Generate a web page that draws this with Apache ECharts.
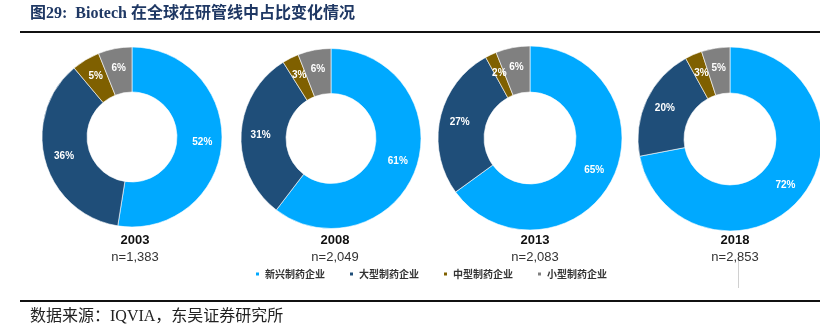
<!DOCTYPE html>
<html>
<head>
<meta charset="utf-8">
<style>
html,body{margin:0;padding:0;background:#fff;}
#main{width:820px;height:324px;}
</style>
<script src="https://cdn.jsdelivr.net/npm/echarts@6/dist/echarts.min.js"></script>
</head>
<body>
<div id="main"></div>
<script>
const categories = ['新兴制药企业', '大型制药企业', '中型制药企业', '小型制药企业'];
const years = ['2003', '2008', '2013', '2018'];
const counts = ['n=1,383', 'n=2,049', 'n=2,083', 'n=2,853'];
const share2003 = [52, 36, 5, 6];
const share2008 = [61, 31, 3, 6];
const share2013 = [65, 27, 2, 6];
const share2018 = [72, 20, 3, 5];
const shares = [share2003, share2008, share2013, share2018];

const colors = ['#00A9FF', '#1F4E79', '#7F6000', '#808080'];
const centers = [[132, 137], [331, 138.5], [530, 138], [730, 139]];
const radii = [[45, 90], [45, 90], [46, 92], [46, 92]];
const labelX = [135, 335, 535, 735];

const chart = echarts.init(document.getElementById('main'), null, {renderer: 'canvas'});

const series = shares.map((vals, i) => ({
  type: 'pie',
  name: years[i],
  center: centers[i],
  radius: radii[i],
  startAngle: 90,
  clockwise: true,
  avoidLabelOverlap: false,
  silent: true,
  itemStyle: {borderColor: '#ffffff', borderWidth: 0.6},
  label: {
    show: true,
    position: 'inside',
    formatter: '{c}%',
    color: '#ffffff',
    fontSize: 10,
    fontWeight: 'bold',
    fontFamily: 'Liberation Sans, Arial, sans-serif'
  },
  labelLine: {show: false},
  emphasis: {disabled: true},
  data: categories.map((c, k) => ({name: c, value: vals[k]}))
}));

const graphics = [
  {type: 'text', left: 30, top: 6, style: {text: '图29:  Biotech 在全球在研管线中占比变化情况', fill: '#1F3864', font: 'bold 16px "Liberation Serif", "Noto Sans CJK SC", serif'}},
  {type: 'line', shape: {x1: 20, y1: 32, x2: 820, y2: 32}, style: {stroke: '#111', lineWidth: 2}},
  {type: 'line', shape: {x1: 20, y1: 301, x2: 820, y2: 301}, style: {stroke: '#111', lineWidth: 2}},
  {type: 'text', left: 30, top: 309, style: {text: '数据来源：IQVIA，东吴证券研究所', fill: '#222', font: '16px "Liberation Serif", "Noto Sans CJK SC", serif'}},
  {type: 'line', shape: {x1: 738.5, y1: 252, x2: 738.5, y2: 288}, style: {stroke: '#d0d0d0', lineWidth: 1}}
];
years.forEach((y, i) => {
  graphics.push({type: 'text', x: labelX[i], y: 240, style: {text: y, fill: '#111', align: 'center', verticalAlign: 'middle', font: 'bold 13px "Liberation Sans", Arial, sans-serif'}});
  graphics.push({type: 'text', x: labelX[i], y: 257, style: {text: counts[i], fill: '#333', align: 'center', verticalAlign: 'middle', font: '13px "Liberation Sans", Arial, sans-serif'}});
});

chart.setOption({
  animation: false,
  color: colors,
  legend: {
    data: categories,
    left: 249,
    top: 264,
    icon: 'rect',
    itemWidth: 5,
    itemHeight: 5,
    itemGap: 23,
    selectedMode: false,
    textStyle: {fontSize: 10, fontWeight: 'bold', color: '#333', fontFamily: 'Noto Sans CJK SC'}
  },
  graphic: graphics,
  series: series
});
</script>
</body>
</html>
